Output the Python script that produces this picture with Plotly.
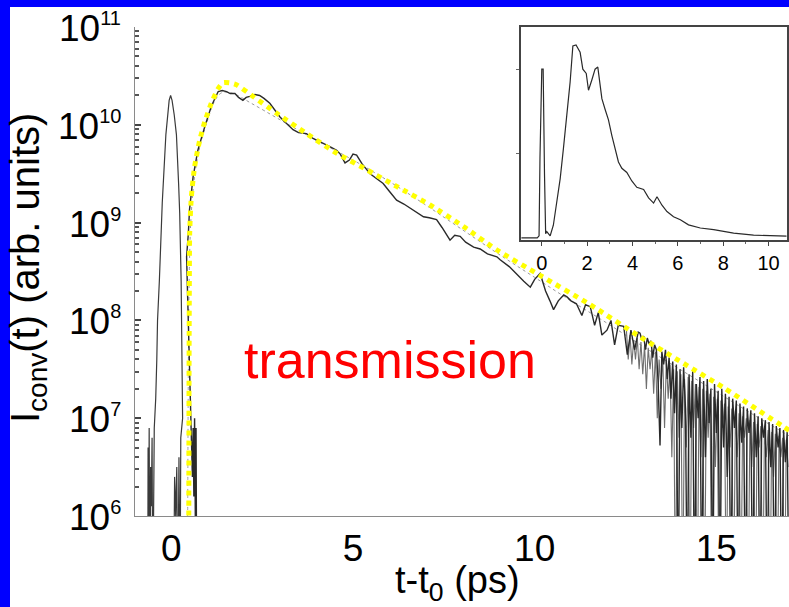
import numpy as np
import plotly.graph_objects as go

# ---------------- data ----------------
# reference pulse (main panel), time in ps, log10 intensity
pulse_t = [-0.65, -0.64, -0.62, -0.61, -0.59, -0.57, -0.55, -0.53, -0.51, -0.47,
           -0.43, -0.40, -0.38, -0.33, -0.25, -0.15, -0.06, -0.02, 0.02, 0.08,
           0.14, 0.20, 0.23, 0.27, 0.30, 0.31, 0.26, 0.24, 0.21, 0.18, 0.15,
           0.12, 0.09, 0.06]
pulse_log = [5.0, 6.7, 6.0, 6.9, 5.0, 6.5, 6.1, 6.8, 5.0, 6.9,
             7.2, 7.6, 8.0, 8.4, 9.2, 9.9, 10.25, 10.30, 10.25, 10.1,
             9.9, 9.4, 9.1, 8.4, 7.4, 7.0, 6.8, 5.0, 6.6, 5.0, 6.5,
             6.0, 6.4, 5.0]

# measured transmitted signal (main panel)
signal_t = [0.70, 0.68, 0.66, 0.64, 0.62, 0.60, 0.58, 0.50, 0.44, 0.42, 0.47, 0.50,
            0.60, 0.73, 0.92, 1.10, 1.29, 1.40, 1.52, 1.62, 1.75, 1.85, 1.97,
            2.06, 2.16, 2.30, 2.43, 2.55, 2.71, 2.85, 2.99, 3.15, 3.35, 3.50,
            3.72, 3.90, 4.05, 4.18, 4.35, 4.55, 4.65, 4.78, 4.90, 5.00, 5.10,
            5.25, 5.47, 5.65, 5.83, 6.00, 6.20, 6.40, 6.57, 6.75, 6.94, 7.10,
            7.30, 7.45, 7.67, 7.80, 7.95, 8.10, 8.32, 8.50, 8.70, 8.96, 9.05,
            9.30, 9.50, 9.70, 9.88, 10.00, 10.15, 10.30, 10.42, 10.52, 10.65,
            10.80, 10.89, 11.00, 11.15, 11.30, 11.40, 11.53, 11.65, 11.75,
            11.85, 11.99, 12.10, 12.20, 12.30, 12.45, 12.55, 12.65, 12.75, 12.85]
signal_log = [5.0, 6.9, 6.0, 7.0, 6.2, 6.9, 6.4, 7.6, 8.3, 8.65, 8.9, 9.13,
              9.47, 9.74, 9.98, 10.19, 10.34, 10.35, 10.34, 10.32, 10.32, 10.28, 10.25,
              10.28, 10.29, 10.31, 10.30, 10.27, 10.22, 10.15, 10.08, 10.02, 9.95, 9.92,
              9.91, 9.86, 9.83, 9.81, 9.78, 9.74, 9.70, 9.61, 9.64, 9.70, 9.69,
              9.60, 9.50, 9.45, 9.40, 9.32, 9.23, 9.19, 9.15, 9.10, 9.06, 9.05,
              9.03, 8.95, 8.82, 8.87, 8.86, 8.80, 8.75, 8.73, 8.68, 8.65, 8.62,
              8.55, 8.47, 8.40, 8.34, 8.42, 8.48, 8.30, 8.20, 8.11, 8.20,
              8.26, 8.24, 8.20, 8.17, 8.05, 8.16, 8.14, 7.95, 8.08,
              7.85, 7.90, 8.00, 7.75, 7.95, 7.94, 7.65, 7.90, 7.70, 7.88]

# noisy tail of the signal
tail_t = [12.90, 12.95, 13.00, 13.05, 13.10, 13.15, 13.20, 13.25, 13.30, 13.35,
          13.40, 13.45, 13.50, 13.55, 13.60, 13.65, 13.70, 13.75, 13.80, 13.85,
          13.90, 13.95, 14.00, 14.05, 14.10, 14.15, 14.20, 14.25, 14.30, 14.35,
          14.40, 14.45, 14.50, 14.55, 14.60, 14.65, 14.70, 14.75, 14.80, 14.85,
          14.90, 14.95, 15.00, 15.05, 15.10, 15.15, 15.20, 15.25, 15.30, 15.35,
          15.40, 15.45, 15.50, 15.55, 15.60, 15.65, 15.70, 15.75, 15.80, 15.85,
          15.90, 15.95, 16.00, 16.05, 16.10, 16.15, 16.20, 16.25, 16.30, 16.35,
          16.40, 16.45, 16.50, 16.55, 16.60, 16.65, 16.70, 16.75, 16.80, 16.85,
          16.90, 16.95, 17.00]
tail_log = [7.87, 7.80, 7.84, 7.70, 7.82, 7.76, 7.79, 7.62, 7.75, 7.70,
            7.35, 6.72, 7.68, 7.55, 7.70, 7.40, 7.62, 7.20, 7.58, 7.05,
            7.55, 5.0, 7.50, 6.90, 7.52, 7.10, 5.0, 7.45, 6.80, 7.48,
            5.0, 7.35, 7.00, 7.42, 5.0, 7.38, 6.60, 7.40, 6.95, 7.30,
            5.0, 7.35, 6.85, 7.28, 5.0, 7.30, 6.70, 7.25, 6.40, 7.22,
            5.0, 7.20, 6.90, 7.18, 5.0, 7.15, 6.75, 7.12, 5.0, 7.10,
            6.85, 7.08, 5.0, 7.05, 6.60, 7.02, 5.0, 7.00, 6.80, 6.98,
            5.0, 6.96, 6.50, 6.94, 5.0, 6.92, 6.70, 6.90, 5.0, 6.88,
            6.55, 6.86, 5.0]

# second (lighter) measured trace in the noisy tail
tail2_t = [12.525, 12.575, 12.625, 12.675, 12.725, 12.775, 12.825, 12.875, 12.925,
           12.975, 13.025, 13.075, 13.125, 13.175, 13.225, 13.275, 13.325, 13.375,
           13.425, 13.475, 13.525, 13.575, 13.625, 13.675, 13.725, 13.775, 13.825,
           13.875, 13.925, 13.975, 14.025, 14.075, 14.125, 14.175, 14.225, 14.275,
           14.325, 14.375, 14.425, 14.475, 14.525, 14.575, 14.625, 14.675, 14.725,
           14.775, 14.825, 14.875, 14.925, 14.975, 15.025, 15.075, 15.125, 15.175,
           15.225, 15.275, 15.325, 15.375, 15.425, 15.475, 15.525, 15.575, 15.625,
           15.675, 15.725, 15.775, 15.825, 15.875, 15.925, 15.975, 16.025, 16.075,
           16.125, 16.175, 16.225, 16.275, 16.325, 16.375, 16.425, 16.475, 16.525,
           16.575, 16.625, 16.675, 16.725, 16.775, 16.825, 16.875, 16.925, 16.975]
tail2_log = [7.90, 7.60, 7.85, 7.55, 7.80, 7.60, 7.82, 7.50, 7.78,
             7.45, 7.75, 7.30, 7.72, 7.50, 7.70, 7.25, 7.68, 7.00,
             7.60, 7.30, 7.62, 6.90, 7.60, 7.20, 7.55, 6.60, 7.50,
             5.0, 7.48, 6.80, 7.45, 5.0, 7.40, 6.70, 7.42, 5.0,
             7.38, 6.90, 7.35, 5.0, 7.32, 6.60, 7.30, 5.0, 7.28,
             6.80, 7.25, 5.0, 7.22, 6.50, 7.20, 5.0, 7.18, 6.90,
             7.15, 5.0, 7.12, 6.70, 7.10, 5.0, 7.08, 6.60, 7.05,
             5.0, 7.02, 6.80, 7.00, 5.0, 6.98, 6.50, 6.96, 5.0,
             6.94, 6.70, 6.92, 5.0, 6.90, 6.60, 6.88, 5.0, 6.86,
             6.40, 6.84, 5.0, 6.82, 6.60, 6.80, 5.0, 6.78, 6.50]

# thin grey dotted fit (main panel)
fit_t = [0.45, 0.50, 0.55, 0.65, 0.80, 1.00, 1.20, 1.40, 1.70, 2.20, 3.00, 4.00,
         5.00, 6.00, 7.00, 8.00, 9.00, 10.00, 11.00, 12.00, 13.00, 14.00, 15.00,
         16.00, 17.00]
fit_log = [6.0, 8.6, 9.1, 9.5, 9.8, 10.05, 10.25, 10.33, 10.32, 10.22, 10.05, 9.84,
           9.64, 9.42, 9.18, 8.93, 8.68, 8.44, 8.20, 7.97, 7.73, 7.50, 7.27,
           7.04, 6.82]

# yellow dotted model curve (main panel)
yellow_t = [0.480, 0.485, 0.490, 0.495, 0.505, 0.55, 0.64, 0.78, 0.92, 1.10, 1.29,
            1.42, 1.60, 1.79, 2.25, 2.89, 3.72, 4.55, 5.38, 6.20, 7.12, 8.04,
            8.96, 10.15, 11.53, 12.91, 14.10, 15.21, 16.86, 17.20]
yellow_log = [5.9, 7.0, 7.8, 8.31, 8.89, 9.26, 9.57, 9.84, 10.03, 10.22, 10.37,
              10.43, 10.43, 10.41, 10.29, 10.12, 9.91, 9.71, 9.54, 9.37, 9.18, 8.96,
              8.72, 8.46, 8.16, 7.83, 7.56, 7.31, 6.91, 6.83]

# inset (linear scale)
inset_t = [-0.90, -0.50, -0.20, -0.12, -0.08, 0.00, 0.06, 0.12, 0.17, 0.22, 0.37,
           0.51, 0.66, 0.81, 0.95, 1.10, 1.25, 1.37, 1.51, 1.69, 1.81, 1.96,
           2.06, 2.21, 2.35, 2.47, 2.57, 2.65, 2.79, 2.94, 3.09, 3.24, 3.38,
           3.53, 3.75, 3.97, 4.19, 4.49, 4.71, 4.93, 5.08, 5.30, 5.52, 5.81,
           6.11, 6.47, 6.99, 7.58, 8.46, 9.34, 10.80]
inset_val = [0.0, 0.0, 0.0, 0.01, 0.38, 0.80, 0.80, 0.30, 0.02, 0.03, 0.01,
             0.06, 0.16, 0.28, 0.42, 0.58, 0.74, 0.91, 0.915, 0.88, 0.80, 0.78,
             0.70, 0.75, 0.80, 0.81, 0.72, 0.66, 0.61, 0.56, 0.485, 0.42, 0.36,
             0.33, 0.31, 0.27, 0.24, 0.23, 0.19, 0.165, 0.195, 0.155, 0.125, 0.10,
             0.086, 0.062, 0.047, 0.039, 0.023, 0.013, 0.008]

main_xticks = [0, 5, 10, 15]
main_yexp = [6, 7, 8, 9, 10, 11]
inset_xticks = [0, 2, 4, 6, 8, 10]

# ---------------- figure ----------------
W, H = 789, 607
ML, MR, MT, MB = 135, 0, 27, 91
PW, PH = W - ML - MR, H - MT - MB


def px_x(p):
    return (p - ML) / PW


def px_y(p):
    return (H - MB - p) / PH


FONT = "Liberation Sans, Arial, sans-serif"
to_lin = lambda a: np.power(10.0, np.array(a, dtype=float))

fig = go.Figure()
fig.add_trace(go.Scatter(x=pulse_t, y=to_lin(pulse_log), mode="lines",
                         line=dict(color="#3a3a3a", width=1.2), showlegend=False))
fig.add_trace(go.Scatter(x=fit_t, y=to_lin(fit_log), mode="lines",
                         line=dict(color="#9a9a9a", width=1, dash="dot", shape="spline"),
                         showlegend=False))
fig.add_trace(go.Scatter(x=tail2_t, y=to_lin(tail2_log), mode="lines",
                         line=dict(color="#6f6f6f", width=1.1), showlegend=False))
fig.add_trace(go.Scatter(x=signal_t + tail_t, y=to_lin(signal_log + tail_log), mode="lines",
                         line=dict(color="#2a2a2a", width=1.4), showlegend=False))
fig.add_trace(go.Scatter(x=yellow_t, y=to_lin(yellow_log), mode="lines",
                         line=dict(color="#ffff00", width=5, dash="5px,5px",
                                   shape="spline", smoothing=0.6),
                         showlegend=False))
fig.add_trace(go.Scatter(x=inset_t, y=inset_val, mode="lines", xaxis="x3", yaxis="y3",
                         line=dict(color="#2a2a2a", width=1.2), showlegend=False))

minor_y = [m * 10 ** e for e in range(6, 11) for m in range(2, 10)]

ytick_annots = [
    dict(text="10<sup><span style='font-size:20px'>%d</span></sup>" % e,
         xref="paper", yref="y", x=px_x(123), y=e, xanchor="right", yanchor="middle",
         yshift=-1, showarrow=False, font=dict(size=37, color="black", family=FONT))
    for e in main_yexp
]

fig.update_layout(
    width=W, height=H,
    margin=dict(l=ML, r=MR, t=MT, b=MB, pad=0),
    paper_bgcolor="white", plot_bgcolor="white",
    font=dict(family=FONT, color="black"),
    xaxis=dict(domain=[0, 1], range=[-1.0, 17.0], showgrid=False, zeroline=False,
               showline=True, linecolor="#8a8a8a", linewidth=1,
               ticks="", tickmode="array", tickvals=main_xticks,
               tickfont=dict(size=37, family=FONT, color="black")),
    xaxis4=dict(overlaying="x", side="bottom", anchor="y", range=[-1.0, 17.0],
                showgrid=False, zeroline=False, showline=False,
                ticks="outside", ticklen=9, tickwidth=2, tickcolor="#333",
                tickmode="array", tickvals=main_xticks, showticklabels=False,
                minor=dict(tickmode="array", tickvals=[2.5, 7.5, 12.5], ticks="outside",
                           ticklen=3, tickcolor="#666", tickwidth=1)),
    xaxis2=dict(overlaying="x", side="top", range=[-1.0, 17.0], showgrid=False,
                zeroline=False, showline=True, linecolor="#333", linewidth=2,
                ticks="inside", ticklen=10, tickwidth=2, tickcolor="#333",
                tickmode="array", tickvals=main_xticks, showticklabels=False),
    yaxis=dict(type="log", range=[6, 11], showgrid=False, zeroline=False,
               showline=True, linecolor="#8a8a8a", linewidth=1,
               ticks="inside", ticklen=6, tickwidth=1.5, tickcolor="#444",
               tickmode="array", tickvals=[10 ** e for e in main_yexp],
               showticklabels=False,
               minor=dict(tickmode="array", tickvals=minor_y, ticks="inside",
                          ticklen=4, tickcolor="#555", tickwidth=1.5)),
    xaxis3=dict(domain=[px_x(520.7), px_x(786.7)], anchor="y3", range=[-0.93, 10.8],
                showgrid=False, zeroline=False, showline=True, mirror=True,
                linecolor="#444", linewidth=1.5,
                ticks="outside", ticklen=4, tickcolor="#444",
                tickmode="array", tickvals=inset_xticks,
                tickfont=dict(size=20, family=FONT, color="black"),
                minor=dict(tickmode="array", tickvals=[1, 3, 5, 7, 9], ticks="outside",
                           ticklen=2, tickcolor="#666")),
    yaxis3=dict(domain=[px_y(240), 1.0], anchor="x3", range=[-0.01, 1.0],
                showgrid=False, zeroline=False, showline=True, mirror=True,
                linecolor="#444", linewidth=1.5, ticks="outside", ticklen=3,
                tickcolor="#666", tickmode="array", tickvals=[0.4, 0.8],
                showticklabels=False),
    shapes=[
        dict(type="rect", xref="paper", yref="paper", layer="above",
             x0=px_x(0), x1=px_x(W + 2), y0=px_y(7), y1=px_y(-2),
             fillcolor="#0000ff", line=dict(width=0)),
        dict(type="rect", xref="paper", yref="paper", layer="above",
             x0=px_x(-2), x1=px_x(10), y0=px_y(H + 2), y1=px_y(-2),
             fillcolor="#0000ff", line=dict(width=0)),
    ],
    annotations=ytick_annots + [
        dict(text="transmission", xref="paper", yref="paper", x=px_x(390), y=px_y(360),
             xanchor="center", yanchor="middle", showarrow=False,
             font=dict(size=52, color="#ff0000", family=FONT)),
        dict(text="t-t<sub>0</sub> (ps)", xref="paper", yref="paper",
             x=px_x(457), y=px_y(583), xanchor="center", yanchor="middle",
             showarrow=False, font=dict(size=38, color="black", family=FONT)),
        dict(text="I<sub>conv</sub>(t) (arb. units)", xref="paper", yref="paper",
             x=px_x(28), y=px_y(268), xanchor="center", yanchor="middle",
             textangle=-90, showarrow=False,
             font=dict(size=40, color="black", family=FONT)),
    ],
)

fig.write_html("out.html", config={"displayModeBar": False},
               post_script="document.body.style.margin='0px';document.body.style.padding='0px';")
